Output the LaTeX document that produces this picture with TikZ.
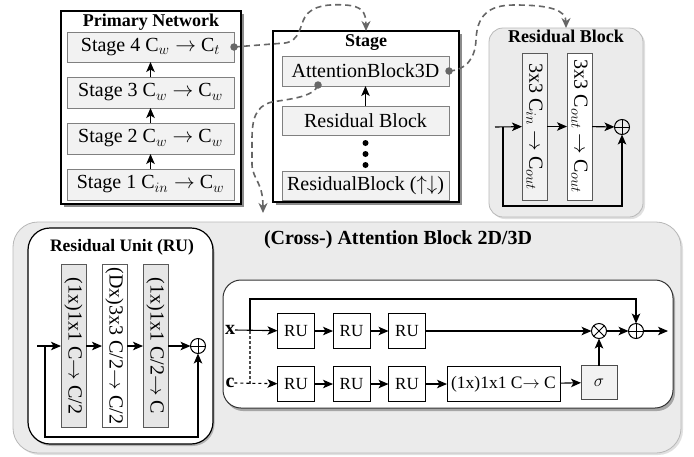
\documentclass[tikz,border=0pt]{standalone}
\usepackage{fontspec}
\setmainfont{Liberation Serif}
\usepackage{graphicx}
\usetikzlibrary{arrows.meta,shadows,calc}
\definecolor{boxfill}{HTML}{F2F2F2}
\definecolor{boxdraw}{HTML}{808080}
\definecolor{panelfill}{HTML}{EBEBEB}
\definecolor{paneldraw}{HTML}{B8B8B8}
\definecolor{dashc}{HTML}{666666}
\definecolor{rufill}{HTML}{E6E6E6}
\begin{document}
\begin{tikzpicture}[x=1pt,y=-1pt,
  every node/.style={inner sep=0pt, outer sep=0pt},
  btxt/.style={font=\fontsize{20}{24}\selectfont},
  stxt/.style={font=\fontsize{17}{20}\selectfont},
  ttl/.style={font=\fontsize{18}{20}\selectfont\bfseries},
  sbox/.style={draw=boxdraw, fill=boxfill, line width=0.8pt, btxt},
  outerbox/.style={draw=black, fill=white, line width=1.2pt,
     drop shadow={shadow xshift=2.5pt,shadow yshift=-2.5pt,fill=black!45,opacity=1}},
  panel/.style={draw=paneldraw, fill=panelfill, line width=0.8pt,
     drop shadow={shadow xshift=2pt,shadow yshift=-2pt,fill=black!12,opacity=1}},
  vbox/.style={draw=black!65, line width=0.8pt, btxt},
  rubox/.style={draw=black, fill=white, line width=1pt, stxt, minimum width=37, minimum height=35},
  arr/.style={-{Stealth[length=10pt,width=8.5pt,inset=2.5pt]}, line width=1.1pt},
  plain/.style={line width=1.1pt},
  dconn/.style={draw=dashc, line width=1.6pt, dash pattern=on 6pt off 4pt, -{Stealth[length=10pt,width=9pt]}},
  gdot/.style={circle, fill=dashc, minimum size=7.5pt},
  bdot/.style={circle, fill=black, minimum size=6pt},
  opl/.style={circle, draw=black, line width=1pt, minimum size=15pt,
     path picture={\draw[line width=1pt] (path picture bounding box.north) -- (path picture bounding box.south)
        (path picture bounding box.west) -- (path picture bounding box.east);}},
  otm/.style={circle, draw=black, line width=1pt, minimum size=15pt,
     path picture={\draw[line width=1pt] ([shift={(45:8pt)}]path picture bounding box.center) -- ([shift={(225:8pt)}]path picture bounding box.center)
        ([shift={(135:8pt)}]path picture bounding box.center) -- ([shift={(315:8pt)}]path picture bounding box.center);}}
]
\useasboundingbox (0,0) rectangle (694,456);

% ---------- Primary Network ----------
\node[outerbox, minimum width=180, minimum height=193] (pn) at (151,107.5) {};
\node[ttl] (pnt) at (151,22) {Primary Network};
\node[sbox, minimum width=167, minimum height=30] (s4) at (150.5,47) {Stage 4 C$_w \rightarrow$ C$_t$};
\node[sbox, minimum width=167, minimum height=31] (s3) at (150.5,92.5) {Stage 3 C$_w \rightarrow$ C$_w$};
\node[sbox, minimum width=167, minimum height=31] (s2) at (150.5,138.5) {Stage 2 C$_w \rightarrow$ C$_w$};
\node[sbox, minimum width=167, minimum height=31] (s1) at (150.5,184.5) {Stage 1 C$_{in} \rightarrow$ C$_w$};
\draw[arr] (s1) -- (s2);
\draw[arr] (s2) -- (s3);
\draw[arr] (s3) -- (s4);

% ---------- Stage ----------
\node[outerbox, minimum width=186, minimum height=171] (stg) at (366,116.5) {};
\node[ttl] (stgt) at (366,43) {Stage};
\node[sbox, minimum width=167, minimum height=30] (att) at (365.5,71) {AttentionBlock3D};
\node[sbox, minimum width=167, minimum height=29] (rbk) at (365.5,120.5) {Residual Block};
\node[sbox, minimum width=167, minimum height=29] (rbud) at (365.5,185.5) {ResidualBlock ($\uparrow\downarrow$)};
\draw[arr] (rbk) -- (att);
\node[bdot] (d1) at (365.5,143) {};
\node[bdot] (d2) at (365.5,154) {};
\node[bdot] (d3) at (365.5,165) {};

% ---------- Residual Block ----------
\node[panel, rounded corners=14pt, minimum width=154, minimum height=189] (rbp) at (566,122.5) {};
\node[ttl] (rbpt) at (566,36) {Residual Block};
\node[vbox, fill=boxfill, minimum width=25, minimum height=147] (rb1) at (534.5,126.5) {\rotatebox{-90}{3x3 C$_{in}$ $\rightarrow$ C$_{out}$}};
\node[vbox, fill=white, minimum width=25, minimum height=147] (rb2) at (579.5,126.5) {\rotatebox{-90}{3x3 C$_{out}$ $\rightarrow$ C$_{out}$}};
\node[opl] (rbplus) at (622,127) {};
\coordinate (rbin) at (495,127);
\coordinate (rbbr) at (503,127);
\coordinate (rbbot) at (503,206);
\draw[arr] (rbin) -- (rb1);
\draw[arr] (rb1) -- (rb2);
\draw[arr] (rb2) -- (rbplus);
\draw[arr] (rbbr) -- (rbbot) -| (rbplus.south);

% ---------- dashed links ----------
\node[gdot] (g1) at (s4.east) {};
\node[gdot] (g2) at (att.east) {};
\node[gdot] (g3) at (318,85) {};
\coordinate (c3end) at (263,213);
\draw[dconn] (g1.center) -- (285,43) .. controls (300,41) and (300,25) .. (305,17)
   .. controls (312,5) and (330,4) .. (345,5) .. controls (362,6) and (366,12) .. (stg.north);
\draw[dconn] (g2.center) .. controls (465,70) and (475,60) .. (476,40)
   .. controls (477,10) and (495,5) .. (515,5) .. controls (550,5) and (566,10) .. (rbp.north);
\draw[dconn] (g3.center) .. controls (314,97) and (290,99) .. (272,102)
   .. controls (255,106) and (252,120) .. (252,140) -- (252,165)
   .. controls (253,180) and (263,182) .. (c3end);

% ---------- Attention Block panel ----------
\node[panel, rounded corners=25pt, minimum width=668, minimum height=231] (abp) at (347,337.5) {};
\node[font=\fontsize{20}{24}\selectfont\bfseries] (abt) at (398,240) {(Cross-) Attention Block 2D/3D};

% ---------- Residual Unit ----------
\node[draw=black, fill=white, rounded corners=22pt, line width=1.2pt, minimum width=185, minimum height=216,
   drop shadow={shadow xshift=1.5pt,shadow yshift=-2pt,fill=black!30,opacity=1}] (rup) at (120.5,336) {};
\node[font=\fontsize{17.5}{20}\selectfont\bfseries] (rupt) at (122,247) {Residual Unit (RU)};
\node[vbox, fill=rufill, minimum width=25, minimum height=163] (u1) at (73.5,346) {\rotatebox{-90}{(1x)1x1 C$\rightarrow$ C/2}};
\node[vbox, fill=white, minimum width=25, minimum height=163] (u2) at (114.5,346) {\rotatebox{-90}{(Dx)3x3 C/2$\rightarrow$ C/2}};
\node[vbox, fill=rufill, minimum width=25, minimum height=163] (u3) at (155.5,346) {\rotatebox{-90}{(1x)1x1 C/2$\rightarrow$ C}};
\node[opl] (uplus) at (198,346) {};
\coordinate (ruin) at (37,346);
\coordinate (rub) at (45,346);
\coordinate (rubot) at (45,437);
\draw[arr] (ruin) -- (u1);
\draw[arr] (u1) -- (u2);
\draw[arr] (u2) -- (u3);
\draw[arr] (u3) -- (uplus);
\draw[arr] (rub) -- (rubot) -| (uplus.south);

% ---------- inner attention box ----------
\node[draw=black!80, fill=white, rounded corners=18pt, line width=1pt, minimum width=450, minimum height=128,
   drop shadow={shadow xshift=2pt,shadow yshift=-3pt,fill=black!35,opacity=1}] (iw) at (448,344) {};
\node[btxt] (xl) at (230,330) {$\mathbf{x}$};
\node[btxt] (cl) at (230,383) {$\mathbf{c}$};
\node[rubox] (r1) at (296,331) {RU};
\node[rubox] (r2) at (351.5,331) {RU};
\node[rubox] (r3) at (407,331) {RU};
\node[rubox] (r4) at (296,384) {RU};
\node[rubox] (r5) at (351.5,384) {RU};
\node[rubox] (r6) at (407,384) {RU};
\node[draw=black, fill=white, line width=1pt, minimum width=113, minimum height=35,
   font=\fontsize{17.5}{20}\selectfont] (conv) at (503.5,384) {(1x)1x1 C$\rightarrow$ C};
\node[draw=black!70, fill=boxfill, line width=0.9pt, minimum width=36, minimum height=34,
   font=\fontsize{18}{20}\selectfont] (sig) at (599,382.5) {$\sigma$};
\node[otm] (otm) at (599,331) {};
\node[opl] (apl) at (636,331) {};
\coordinate (xb) at (250,331);
\coordinate (xtop) at (250,299);
\coordinate (cb) at (250,384);
\coordinate (aout) at (668,331);
\draw[arr] (xl.east) -- (r1);
\draw[arr] (xb) -- (xtop) -| (apl.north);
\draw[plain, dash pattern=on 3pt off 2pt, draw=black!70] (xb) -- (cb);
\draw[arr, dash pattern=on 3pt off 3pt] (cl.east) -- (r4);
\draw[arr] (r1) -- (r2);
\draw[arr] (r2) -- (r3);
\draw[arr] (r3) -- (otm);
\draw[arr] (r4) -- (r5);
\draw[arr] (r5) -- (r6);
\draw[arr] (r6) -- (conv);
\draw[arr] (conv) -- (sig);
\draw[arr] (sig) -- (otm);
\draw[arr] (otm) -- (apl);
\draw[arr] (apl) -- (aout);
\end{tikzpicture}
\end{document}
